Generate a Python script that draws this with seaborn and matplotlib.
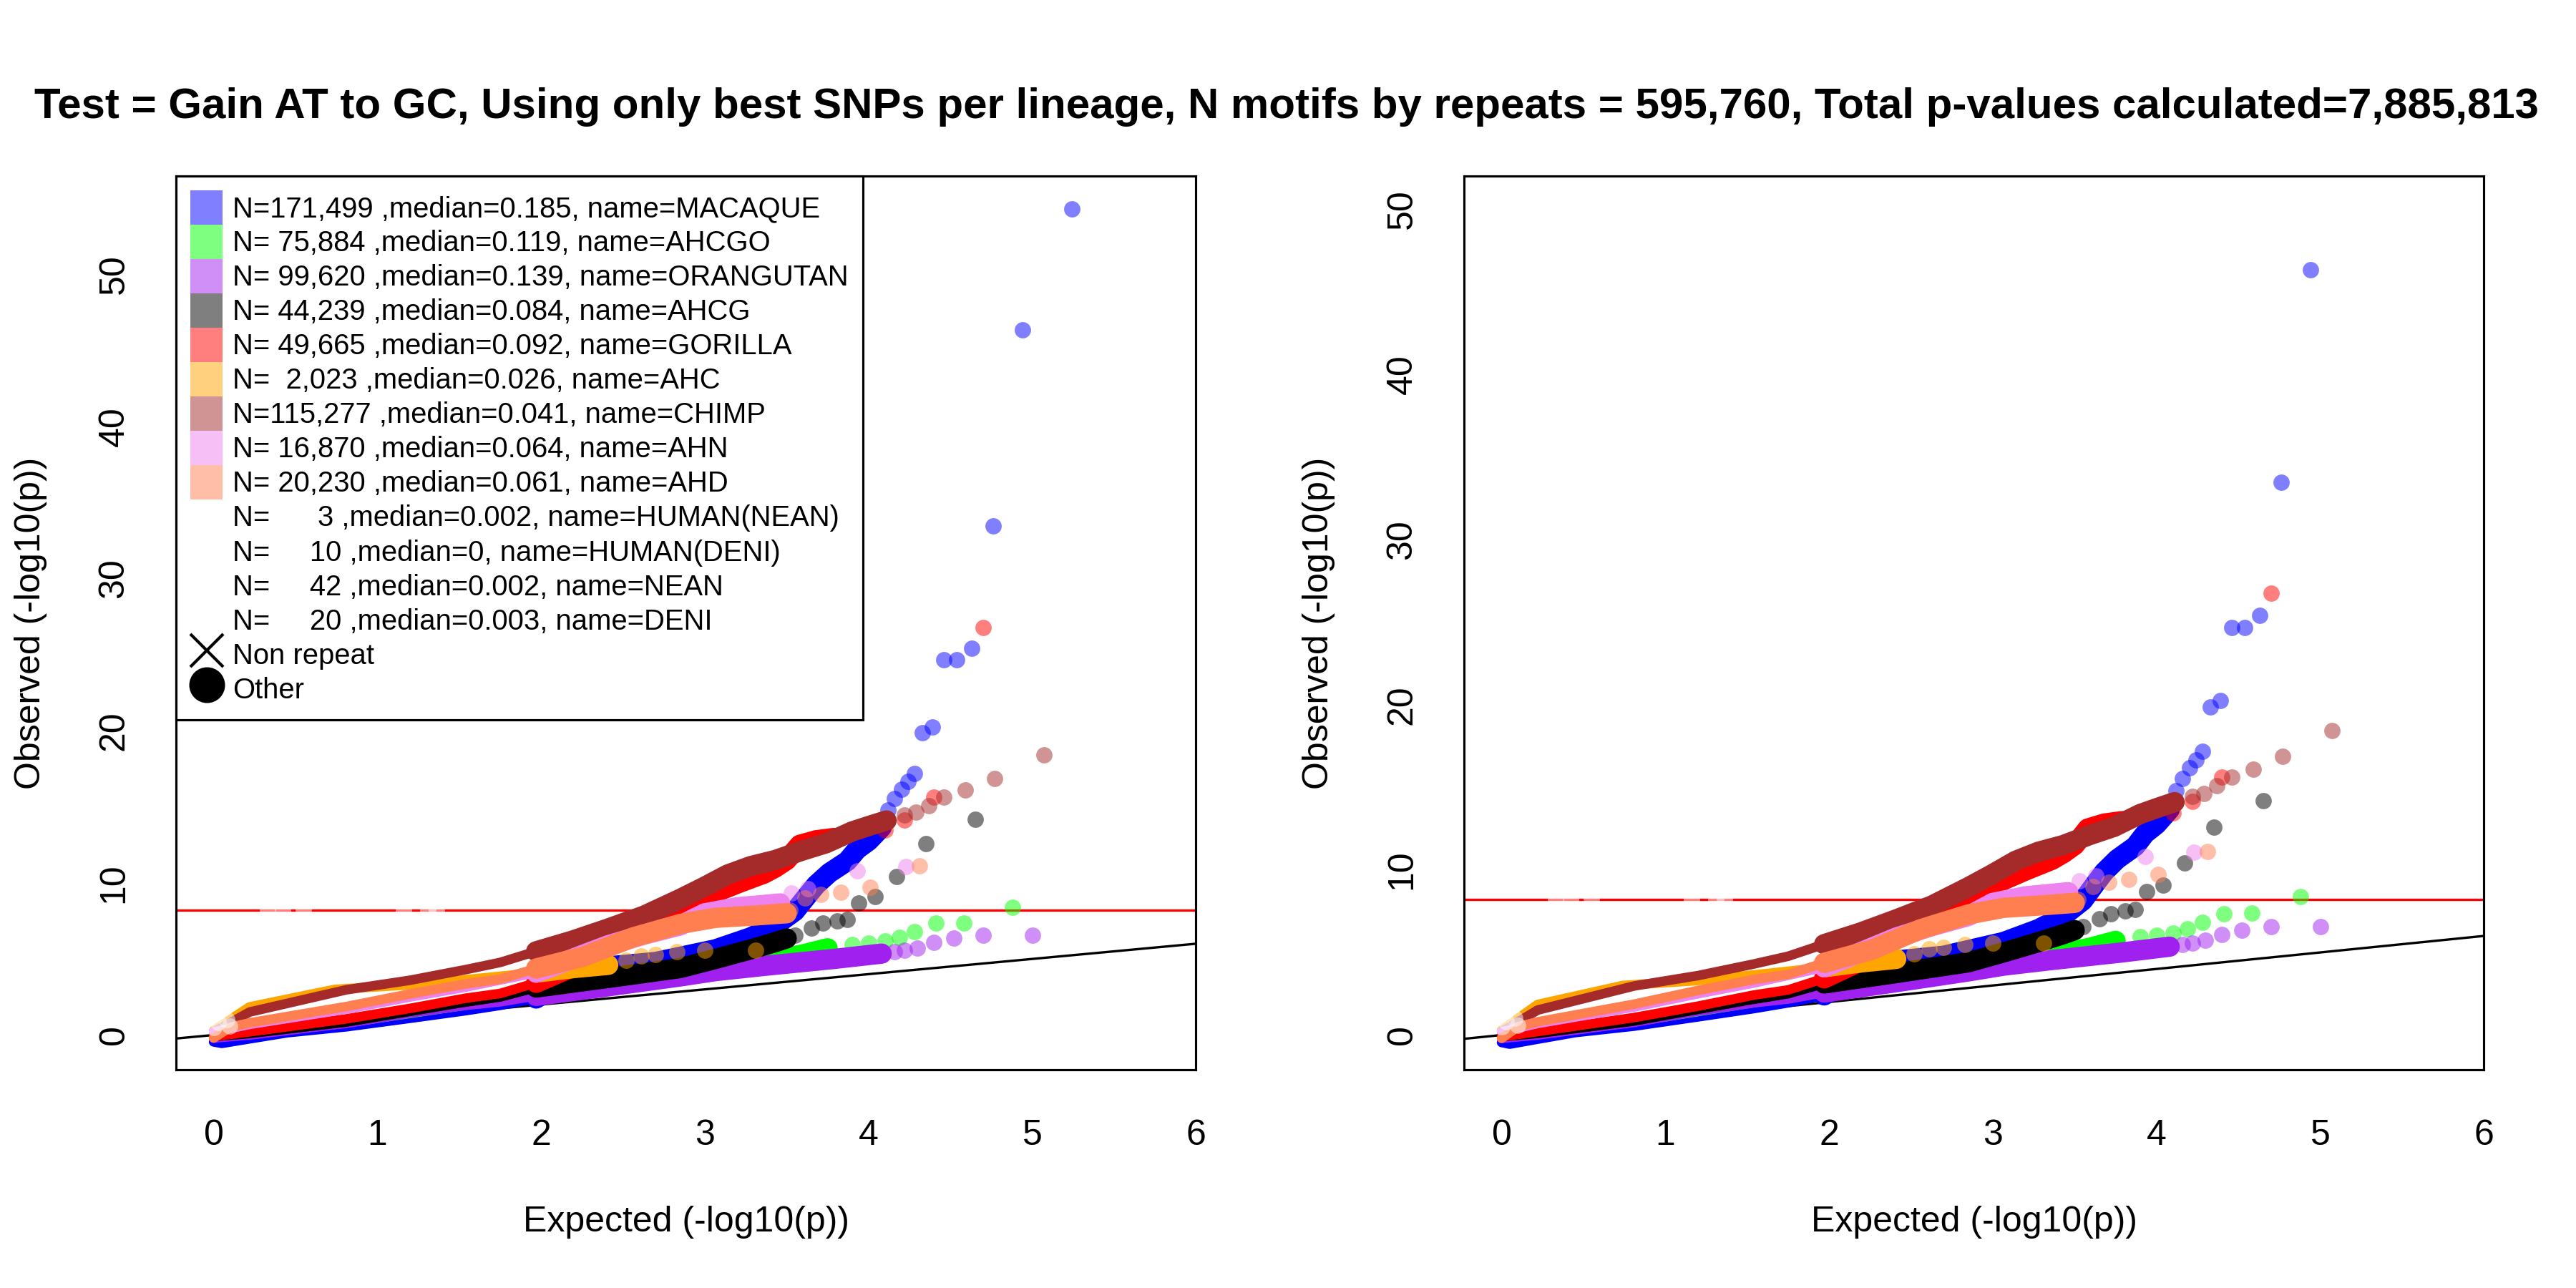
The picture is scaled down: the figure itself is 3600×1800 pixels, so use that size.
from __future__ import annotations

import matplotlib

matplotlib.use("Agg")

import matplotlib.pyplot as plt
import pandas as pd
import seaborn as sns
from matplotlib.colors import to_rgba
from matplotlib.lines import Line2D
from matplotlib.patches import Patch


TITLE = ("Test = Gain AT to GC, Using only best SNPs per lineage, "
         "N motifs by repeats = 595,760, Total p-values calculated=7,885,813")

NAMES = ["MACAQUE", "AHCGO", "ORANGUTAN", "AHCG", "GORILLA", "AHC", "CHIMP", "AHN", "AHD",
         "HUMAN(NEAN)", "HUMAN(DENI)", "NEAN", "DENI"]
COUNTS = [171499, 75884, 99620, 44239, 49665, 2023, 115277, 16870, 20230, 3, 10, 42, 20]
MEDIANS = [0.185, 0.119, 0.139, 0.084, 0.092, 0.026, 0.041, 0.064, 0.061, 0.002, 0, 0.002, 0.003]
COLORS = ["#0000FF", "#00FF00", "#A020F0", "#000000", "#FF0000", "#FFA500", "#A52A2A",
          "#EE82EE", "#FF7F50", "#FFFFFF", "#FFFFFF", "#FFFFFF", "#FFFFFF"]

BONFERRONI = 8.2
SMALL_BELOW = 1.97  # expected value below which points were drawn small

# dense part of each QQ curve (expected, observed)
MACAQUE_X = [0.0, 0.05, 0.22, 0.45, 0.81, 1.2, 1.54, 1.75, 1.97, 2.1, 2.25, 2.45, 2.7, 2.92, 3.065,
             3.28, 3.43, 3.55, 3.62, 3.68, 3.76, 3.87, 3.93, 4.0, 4.08]
MACAQUE_Y = [-0.45, -0.55, -0.25, 0.15, 0.54, 1.1, 1.6, 1.95, 2.4, 3.2, 4.2, 4.55, 4.8, 5.3, 5.63,
             6.42, 7.2, 8.14, 9.08, 9.87, 10.65, 11.43, 12.2, 12.75, 13.65]
AHCGO_X = [0.0, 0.22, 0.81, 1.5, 1.97, 2.5, 2.85, 3.065, 3.36, 3.6, 3.75]
AHCGO_Y = [-0.1, 0.05, 0.8, 1.9, 2.6, 3.4, 4.0, 4.4, 4.8, 5.3, 5.7]
ORANGUTAN_X = [0.0, 0.22, 0.81, 1.2, 1.54, 1.75, 1.97, 2.41, 2.85, 3.065, 3.36, 3.79, 4.08]
ORANGUTAN_Y = [-0.2, 0.0, 0.77, 1.45, 1.95, 2.18, 2.57, 3.2, 3.85, 4.2, 4.54, 5.0, 5.35]
AHCG_X = [0.0, 0.22, 0.81, 1.5, 1.75, 1.97, 2.41, 2.85, 3.065, 3.28, 3.43, 3.5]
AHCG_Y = [-0.1, 0.1, 0.85, 2.1, 2.5, 3.12, 3.75, 4.4, 5.0, 5.63, 6.1, 6.35]
GORILLA_X = [0.0, 0.22, 0.81, 1.2, 1.54, 1.75, 1.97, 2.2, 2.34, 2.48, 2.63, 2.77, 2.92, 3.07,
             3.21, 3.36, 3.43, 3.5, 3.58, 3.68, 3.79]
GORILLA_Y = [-0.1, 0.21, 1.06, 1.75, 2.42, 2.73, 3.43, 4.5, 5.4, 6.3, 7.1, 7.8, 8.6, 9.4,
             10.0, 10.6, 11.0, 11.5, 12.5, 12.8, 12.95]
AHC_X = [0.0, 0.22, 0.74, 1.2, 1.6, 1.97, 2.2, 2.41]
AHC_Y = [0.3, 1.85, 3.0, 3.3, 3.7, 4.1, 4.4, 4.61]
CHIMP_X = [0.0, 0.22, 0.81, 1.2, 1.54, 1.75, 1.97, 2.19, 2.41, 2.63, 2.85, 2.99, 3.14, 3.28, 3.43,
           3.59, 3.74, 3.9, 4.02, 4.11]
CHIMP_Y = [0.2, 1.51, 2.97, 3.6, 4.3, 4.77, 5.5, 6.2, 7.0, 7.85, 8.95, 9.7, 10.55, 11.1, 11.5,
           12.1, 12.6, 13.38, 13.8, 14.1]
AHN_X = [0.0, 0.22, 0.81, 1.2, 1.54, 1.97, 2.41, 2.63, 2.85, 3.0, 3.2, 3.36, 3.46]
AHN_Y = [0.2, 0.7, 1.7, 2.5, 3.15, 4.1, 5.9, 6.6, 7.2, 8.0, 8.4, 8.55, 8.65]
AHD_X = [0.0, 0.1, 0.22, 0.81, 1.2, 1.54, 1.75, 1.97, 2.26, 2.56, 2.85, 3.065, 3.3, 3.5]
AHD_Y = [-0.2, 0.5, 0.8, 1.87, 2.7, 3.36, 3.67, 4.37, 5.16, 6.41, 7.3, 7.7, 7.85, 8.0]

# sparse top hits of each curve
MACAQUE_TAIL_X = [4.12, 4.16, 4.2, 4.24, 4.28, 4.33, 4.39, 4.46, 4.54, 4.63, 4.76, 4.94, 5.24]
MACAQUE_TAIL_Y = [14.78, 15.54, 16.17, 16.67, 17.17, 19.85, 20.25, 24.68, 24.68, 25.41, 33.45,
                  46.33, 54.28]
AHCGO_TAIL_X = [3.9, 4.0, 4.1, 4.19, 4.28, 4.41, 4.58, 4.88]
AHCGO_TAIL_Y = [5.95, 6.03, 6.18, 6.42, 6.81, 7.35, 7.38, 8.39]
ORANGUTAN_TAIL_X = [4.16, 4.22, 4.3, 4.4, 4.52, 4.7, 5.0]
ORANGUTAN_TAIL_Y = [5.46, 5.55, 5.73, 6.09, 6.36, 6.54, 6.58]
AHCG_TAIL_X = [3.55, 3.65, 3.72, 3.81, 3.87, 3.94, 4.04, 4.17, 4.35, 4.65]
AHCG_TAIL_Y = [6.57, 7.04, 7.36, 7.51, 7.59, 8.69, 9.08, 10.41, 12.57, 14.17]
GORILLA_TAIL_X = [4.1, 4.22, 4.4, 4.7]
GORILLA_TAIL_Y = [13.47, 14.13, 15.63, 26.76]
AHC_TAIL_X = [2.52, 2.61, 2.7, 2.83, 3.0, 3.31]
AHC_TAIL_Y = [4.9, 5.2, 5.3, 5.47, 5.55, 5.55]
CHIMP_TAIL_X = [4.22, 4.29, 4.37, 4.46, 4.59, 4.77, 5.07]
CHIMP_TAIL_Y = [14.46, 14.64, 15.09, 15.63, 16.11, 16.85, 18.41]
AHN_TAIL_X = [3.53, 3.63, 3.93, 4.23]
AHN_TAIL_Y = [9.32, 9.63, 10.8, 11.07]
AHD_TAIL_X = [3.52, 3.61, 3.71, 3.83, 4.01, 4.31]
AHD_TAIL_Y = [8.22, 9.0, 9.24, 9.4, 9.71, 11.1]

# archaic / human lineages (white points, only visible where they cover something)
ARCHAIC_X = [0.0, 0.03, 0.08, 0.1, 0.33, 0.42, 0.55, 1.16, 1.31, 1.36]
ARCHAIC_Y = [0.5, 0.8, 1.0, 0.6, 8.2, 8.2, 8.25, 8.2, 8.2, 8.2]


def build_table() -> pd.DataFrame:
    bands = [(MACAQUE_X, MACAQUE_Y, MACAQUE_TAIL_X, MACAQUE_TAIL_Y),
             (AHCGO_X, AHCGO_Y, AHCGO_TAIL_X, AHCGO_TAIL_Y),
             (ORANGUTAN_X, ORANGUTAN_Y, ORANGUTAN_TAIL_X, ORANGUTAN_TAIL_Y),
             (AHCG_X, AHCG_Y, AHCG_TAIL_X, AHCG_TAIL_Y),
             (GORILLA_X, GORILLA_Y, GORILLA_TAIL_X, GORILLA_TAIL_Y),
             (AHC_X, AHC_Y, AHC_TAIL_X, AHC_TAIL_Y),
             (CHIMP_X, CHIMP_Y, CHIMP_TAIL_X, CHIMP_TAIL_Y),
             (AHN_X, AHN_Y, AHN_TAIL_X, AHN_TAIL_Y),
             (AHD_X, AHD_Y, AHD_TAIL_X, AHD_TAIL_Y)]
    frames = []
    for name, (bx, by, tx, ty) in zip(NAMES, bands):
        frames.append(pd.DataFrame({"name": name, "expected": bx, "observed": by, "part": "band"}))
        frames.append(pd.DataFrame({"name": name, "expected": tx, "observed": ty, "part": "tail"}))
    frames.append(pd.DataFrame({"name": "NEAN", "expected": ARCHAIC_X, "observed": ARCHAIC_Y,
                                "part": "tail"}))
    return pd.concat(frames, ignore_index=True)


def draw_panel(ax, data: pd.DataFrame, ylim) -> None:
    ax.axline((0, 0), slope=1, color="black", lw=0.8, zorder=1)
    ax.axhline(BONFERRONI, color="red", lw=0.8, zorder=1)
    z = 2
    for name, color in zip(NAMES, COLORS):
        sub = data[data["name"] == name]
        if sub.empty:
            continue
        band = sub[sub["part"] == "band"]
        low = band[band["expected"] <= SMALL_BELOW]
        high = band[band["expected"] >= SMALL_BELOW]
        for part, lw in ((low, 3.2), (high, 6.8)):
            if len(part) > 1:
                sns.lineplot(data=part, x="expected", y="observed", sort=False, estimator=None,
                             color=color, lw=lw, solid_capstyle="round", solid_joinstyle="round",
                             ax=ax, zorder=z)
        tail = sub[sub["part"] == "tail"]
        sns.scatterplot(data=tail, x="expected", y="observed", color=color, alpha=0.5, s=30,
                        linewidth=0, ax=ax, zorder=z + 0.5)
        z += 1
    ax.set_xlim(-0.23, 6.0)
    ax.set_ylim(*ylim)
    ax.set_xticks(range(0, 7))
    ax.set_yticks(range(0, 51, 10))
    ax.set_xlabel("Expected (-log10(p))", fontsize=12, labelpad=18)
    ax.set_ylabel("Observed (-log10(p))", fontsize=12, labelpad=17)
    ax.tick_params(axis="both", direction="out", length=7.2, width=0.75, labelsize=12,
                   color="black", labelcolor="black")
    ax.tick_params(axis="x", pad=9.5)
    ax.tick_params(axis="y", pad=8.0)
    for label in ax.get_yticklabels():
        label.set_rotation(90)
        label.set_va("center")
    for spine in ax.spines.values():
        spine.set_visible(True)
        spine.set_linewidth(0.75)
        spine.set_color("black")


def add_legend(ax) -> None:
    handles = [Patch(facecolor=to_rgba(c, 0.5), edgecolor="none") for c in COLORS[:9]]
    handles += [Patch(facecolor="none", edgecolor="none") for _ in COLORS[9:]]
    handles.append(Line2D([], [], ls="none", marker="x", ms=11, mew=1.0, color="black"))
    handles.append(Line2D([], [], ls="none", marker="o", ms=11, color="black"))
    labels = [f"N={n:>7,} ,median={m:g}, name={name}" for n, m, name in zip(COUNTS, MEDIANS, NAMES)]
    labels += ["Non repeat", "Other"]
    leg = ax.legend(handles, labels, loc="upper left", bbox_to_anchor=(0, 1), borderaxespad=0,
                    fontsize=9.6, handlelength=1.14, handleheight=1.47, handletextpad=0.35,
                    labelspacing=0.0, borderpad=0.5, frameon=True, fancybox=False,
                    framealpha=1, edgecolor="black")
    leg.get_frame().set_linewidth(0.75)
    leg.set_zorder(30)


def main() -> int:
    sns.set_theme(style="white")
    plt.rcParams["font.family"] = ["Liberation Sans", "DejaVu Sans"]
    plt.rcParams["text.color"] = "black"
    plt.rcParams["axes.labelcolor"] = "black"
    data = build_table()
    right = data.drop(index=data["observed"].idxmax())

    fig = plt.figure(figsize=(12, 6), dpi=300)
    ax_left = fig.add_axes([0.0683, 0.1696, 0.396, 0.6937])
    ax_right = fig.add_axes([0.5683, 0.1696, 0.396, 0.6937])
    draw_panel(ax_left, data, (-2.27, 56.45))
    draw_panel(ax_right, right, (-2.09, 52.0))
    add_legend(ax_left)
    fig.text(0.4994, 0.917, TITLE, ha="center", va="center", fontsize=14.4, fontweight="bold",
             color="black")
    fig.savefig("out.png", dpi=300)
    plt.close(fig)
    return 0


if __name__ == "__main__":
    raise SystemExit(main())
